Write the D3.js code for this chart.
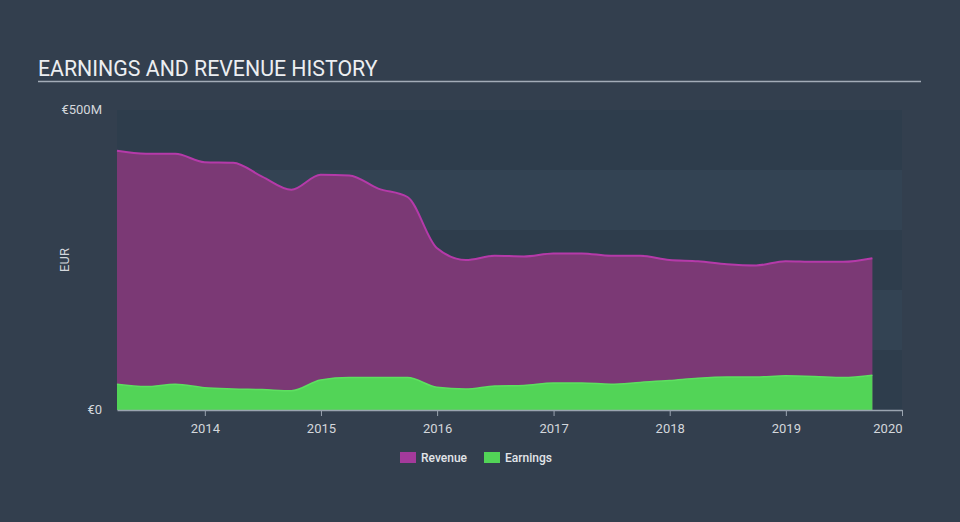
<!DOCTYPE html>
<html>
<head>
<meta charset="utf-8">
<script src="https://cdn.jsdelivr.net/npm/d3@7"></script>
<style>
  html, body { margin: 0; padding: 0; background: #333f4e; }
  svg { display: block; font-family: Roboto, "Open Sans", sans-serif; }
</style>
</head>
<body>
<svg id="chart" width="960" height="522"></svg>
<script>
// ---- data ----
const dates = [
  "2013-03-31","2013-06-30","2013-09-30","2013-12-31",
  "2014-03-31","2014-06-30","2014-09-30","2014-12-31",
  "2015-03-31","2015-06-30","2015-09-30","2015-12-31",
  "2016-03-31","2016-06-30","2016-09-30","2016-12-31",
  "2017-03-31","2017-06-30","2017-09-30","2017-12-31",
  "2018-03-31","2018-06-30","2018-09-30","2018-12-31",
  "2019-03-31","2019-06-30","2019-09-30"
];
const revenue = [432,427,427,413,412,389,367,392,391,369,355,270,250,257,256,261,261,257,257,250,248,243,241,248,247,247,253];
const earnings = [43,39,43,37,35,34,32,50,54,54,54,38,35,40,41,45,45,43,46,49,53,55,55,57,56,54,58];
const yTickValues = [0, 500];
const yTickLabels = ["€0", "€500M"];
const xTickYears = [2014, 2015, 2016, 2017, 2018, 2019, 2020];
const seriesNames = ["Revenue", "Earnings"];

// ---- layout ----
const svg = d3.select("#chart");
const W = 960, H = 522;
const plot = { left: 117, right: 902, top: 110, bottom: 410 };

const parse = d3.timeParse("%Y-%m-%d");
const dts = dates.map(parse);

const x = d3.scaleTime()
  .domain([new Date(2013, 2, 31), new Date(2020, 0, 1)])
  .range([plot.left, plot.right]);
const y = d3.scaleLinear().domain([0, 500]).range([plot.bottom, plot.top]);

// background
svg.append("rect").attr("width", W).attr("height", H).attr("fill", "#333f4e");

// bands
const bandVals = d3.range(0, 500, 100);
svg.append("g").selectAll("rect").data(bandVals).join("rect")
  .attr("x", plot.left)
  .attr("width", plot.right - plot.left)
  .attr("y", d => y(d + 100))
  .attr("height", d => y(d) - y(d + 100))
  .attr("fill", (d, i) => (i % 2 === 0) ? "#2e3d4c" : "#334353");

// title
svg.append("text")
  .attr("x", 38).attr("y", 76)
  .attr("fill", "#eceef1")
  .attr("font-size", 21.3)
  .text("EARNINGS AND REVENUE HISTORY");
svg.append("line")
  .attr("x1", 38).attr("x2", 921).attr("y1", 81.5).attr("y2", 81.5)
  .attr("stroke", "#a3acb8").attr("stroke-width", 1.5);

// areas
const curve = d3.curveMonotoneX;
const revData = dts.map((d, i) => ({ d, v: revenue[i] }));
const earnData = dts.map((d, i) => ({ d, v: earnings[i] }));

const area = d3.area().curve(curve).x(p => x(p.d)).y0(y(0)).y1(p => y(p.v));
const line = d3.line().curve(curve).x(p => x(p.d)).y(p => y(p.v));

svg.append("path").datum(revData).attr("d", area).attr("fill", "#7b3975");
svg.append("path").datum(revData).attr("d", line)
  .attr("fill", "none").attr("stroke", "#b53aa9").attr("stroke-width", 2);

svg.append("path").datum(earnData).attr("d", area).attr("fill", "#52d457");
svg.append("path").datum(earnData).attr("d", line)
  .attr("fill", "none").attr("stroke", "#5de060").attr("stroke-width", 1.5);

// x axis
const xAxis = d3.axisBottom(x)
  .tickValues(xTickYears.map(yr => new Date(yr, 0, 1)))
  .tickFormat(d3.timeFormat("%Y"))
  .tickSize(6)
  .tickSizeOuter(0);
const gx = svg.append("g").attr("transform", `translate(0,${plot.bottom})`).call(xAxis);
gx.select(".domain").attr("stroke", "#9aa4b0").attr("stroke-width", 1.5);
gx.selectAll(".tick line").attr("stroke", "#9aa4b0");
gx.selectAll(".tick text")
  .attr("fill", "#d3d7dc").attr("font-size", 13).attr("font-family", "Roboto, sans-serif")
  .attr("dy", "1.05em")
  .attr("text-anchor", (d, i, n) => i === n.length - 1 ? "end" : "middle");

// y labels
const gy = svg.append("g");
gy.selectAll("text").data(yTickValues).join("text")
  .attr("x", 102)
  .attr("y", d => y(d) + 4)
  .attr("text-anchor", "end")
  .attr("fill", "#d3d7dc")
  .attr("font-size", 13)
  .text((d, i) => yTickLabels[i]);

svg.append("text")
  .attr("transform", `translate(69,260) rotate(-90)`)
  .attr("text-anchor", "middle")
  .attr("fill", "#d3d7dc")
  .attr("font-size", 13)
  .text("EUR");

// legend
const legendColors = ["#a43a9b", "#52d457"];
const legendX = [400, 484];
const lg = svg.append("g");
seriesNames.forEach((name, i) => {
  lg.append("rect")
    .attr("x", legendX[i]).attr("y", 452)
    .attr("width", 16).attr("height", 11)
    .attr("fill", legendColors[i]);
  lg.append("text")
    .attr("x", legendX[i] + 21).attr("y", 462)
    .attr("fill", "#e2e5e9")
    .attr("font-size", 12)
    .attr("font-weight", 500)
    .text(name);
});
</script>
</body>
</html>
